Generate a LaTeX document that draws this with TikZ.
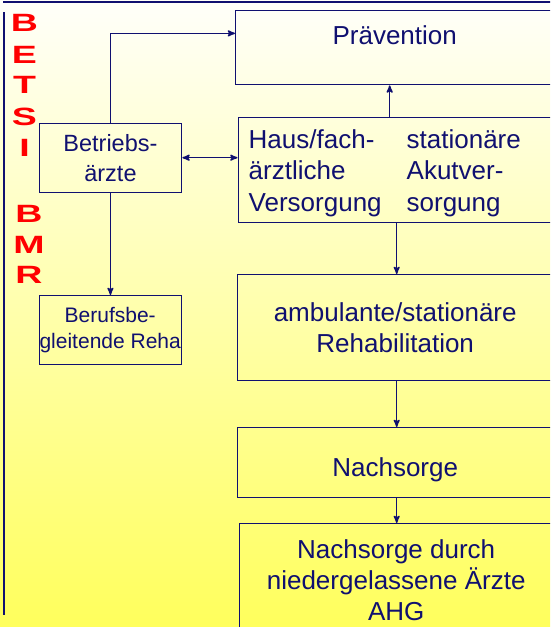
\documentclass[tikz,border=0pt]{standalone}
\usepackage{fontspec}
\setmainfont{Liberation Sans}
\usetikzlibrary{arrows, positioning, calc}
\definecolor{navy}{RGB}{16,16,112}
\definecolor{paleyel}{RGB}{255,255,250}
\definecolor{deepyel}{RGB}{255,255,92}
\tikzset{
         mybox/.style={draw=navy, line width=1.4pt, text=navy, align=center, inner sep=0pt,
                       anchor=north west, font=\fontsize{26}{31.5}\selectfont},
         mymid/.style={mybox, font=\fontsize{23.5}{30}\selectfont},
         mysmall/.style={mybox, font=\fontsize{21}{26}\selectfont},
         myletter/.style={text=red, inner sep=0pt, anchor=base, xscale=1.5, transform shape,
                          font=\fontsize{25}{25}\bfseries\selectfont},
         myarrow/.style={->, >=stealth', draw=navy, line width=1.5pt}
      }

\begin{document}
\begin{tikzpicture}[x=1pt, y=-1pt]
               \useasboundingbox (0,0) rectangle (550,627);
               \clip (0,0) rectangle (550,627);
               \shade[top color=paleyel, bottom color=deepyel] (0,0) rectangle (550,627);
               \draw[navy, line width=2pt] (3,2) -- (553,2);
               \draw[navy, line width=2pt] (4,12) -- (4,615);

               % vertical labels
               \foreach \l/\y [count=\i] in {B/31.7, E/63.3, T/93.3, S/125.7, I/156}
                   \node[myletter] (betsi\i) at (24.5,\y) {\l};
               \foreach \l/\y [count=\i] in {B/222.7, M/253.3, R/283.3}
                   \node[myletter] (bmr\i) at (29,\y) {\l};

               % boxes
               \node[mybox, minimum width=318pt, minimum height=74pt, text height=34pt, text depth=40pt]
                    (prev) at (235,10) {Pr\"avention};
               \node[mybox, minimum width=315pt, minimum height=105pt, text width=294pt, align=left, inner xsep=10.5pt]
                    (haus) at (237.5,117) {\begin{tabular}{@{}p{158pt}@{}l@{}}
                       \rule{0pt}{29pt}Haus/fach- & station\"are\\
                       \"arztliche & Akutver-\\
                       Versorgung & sorgung
                    \end{tabular}};
               \node[mymid, minimum width=142.5pt, minimum height=69pt]
                    (betr) at (38.5,122.5) {Betriebs-\\\"arzte};
               \node[mysmall, minimum width=142pt, minimum height=69pt]
                    (beruf) at (38.5,295) {Berufsbe-\\gleitende Reha};
               \node[mybox, minimum width=316pt, minimum height=106pt]
                    (amb) at (236.5,274) {ambulante/station\"are\\Rehabilitation};
               \node[mybox, minimum width=316pt, minimum height=70pt, text height=49pt, text depth=21pt]
                    (nach) at (236.5,427) {Nachsorge};
               \node[mybox, minimum width=313pt, minimum height=112pt, font=\fontsize{26}{31}\selectfont]
                    (ndg) at (239,523) {Nachsorge durch\\niedergelassene \"Arzte\\AHG};

               % connectors
               \coordinate (previn) at ($(prev.north west)!0.31!(prev.south west)$);
               \draw[myarrow] (betr.north) |- (previn);
               \draw[myarrow, <->] (betr.east) -- (betr.east -| haus.west);
               \draw[myarrow] ([xshift=-6pt]haus.north) -- ([xshift=-6pt]haus.north |- prev.south);
               \draw[myarrow] ([xshift=1pt]haus.south) -- ([xshift=1pt]haus.south |- amb.north);
               \draw[myarrow] ([xshift=1.5pt]amb.south) -- ([xshift=1.5pt]amb.south |- nach.north);
               \draw[myarrow] ([xshift=1.5pt]nach.south) -- ([xshift=1.5pt]nach.south |- ndg.north);
               \draw[myarrow] (betr.south) -- (betr.south |- beruf.north);
\end{tikzpicture}
\end{document}
